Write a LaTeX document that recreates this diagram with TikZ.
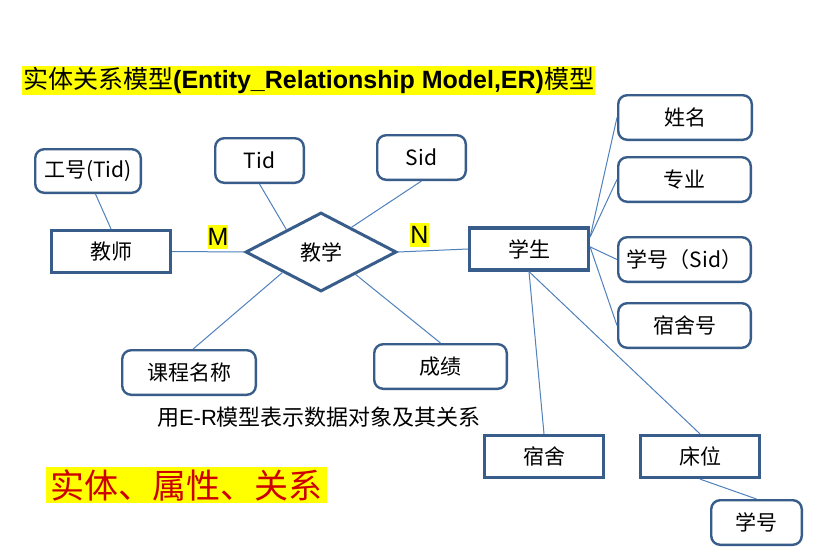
\documentclass[tikz,border=0pt]{standalone}
\usepackage{fontspec}
\setmainfont{Noto Sans CJK SC}
\newfontfamily\arial{Liberation Sans}
\usetikzlibrary{shapes.geometric}
\definecolor{boxc}{RGB}{56,93,138}
\definecolor{linec}{RGB}{79,129,189}
\definecolor{hl}{RGB}{255,255,0}
\definecolor{redt}{RGB}{204,0,0}
\begin{document}
\begin{tikzpicture}[x=1pt,y=-1pt,
  entity/.style={draw=boxc, line width=3.2pt, minimum width=119pt, minimum height=42pt, inner sep=0pt, font=\fontsize{21}{25}\selectfont},
  attr/.style={draw=boxc, line width=2.4pt, rounded corners=9pt, minimum height=44.6pt, inner sep=0pt, font=\fontsize{21}{25}\selectfont},
  rel/.style={diamond, draw=boxc, line width=3pt, minimum width=151pt, minimum height=79pt, inner sep=0pt, font=\fontsize{21}{25}\selectfont},
  conn/.style={draw=linec, line width=1pt},
  hlabel/.style={fill=hl, inner sep=0pt, minimum height=24pt, font=\arial\fontsize{25}{25}\selectfont}
]
\fill[white] (0,0) rectangle (820,555);
\useasboundingbox (0,0) rectangle (820,555);

% title
\node[fill=hl, anchor=west, inner xsep=1pt, inner ysep=0pt, minimum height=29pt, font=\fontsize{25}{29}\selectfont] (title) at (22,80.5)
  {实体关系模型{\arial\bfseries (Entity\_Relationship Model,ER)}模型};

% entities
\node[entity] (js) at (111,251.5) {教师};
\node[entity] (xs) at (529,249) {学生};
\node[entity] (ss) at (544,456.5) {宿舍};
\node[entity] (cw) at (700,456.5) {床位};

% relation
\node[rel] (jx) at (321,252) {教学};

% attributes
\node[attr, minimum width=105.6pt, minimum height=43.6pt] (gh) at (88,171) {工号(Tid)};
\node[attr, minimum width=88.6pt] (tid) at (259.5,160.5) {Tid};
\node[attr, minimum width=88.6pt] (sid) at (421.5,157.5) {Sid};
\node[attr, minimum width=133.6pt] (xm) at (685,117.5) {姓名};
\node[attr, minimum width=132.6pt] (zy) at (684.5,179.5) {专业};
\node[attr, minimum width=132.6pt] (xh) at (684.5,259.5) {学号（Sid）};
\node[attr, minimum width=132.6pt] (ssh) at (684.5,325.5) {宿舍号};
\node[attr, minimum width=133.6pt] (kc) at (189,372.5) {课程名称};
\node[attr, minimum width=132.6pt] (cj) at (440.5,366.5) {成绩};
\node[attr, minimum width=90.6pt] (xh2) at (756.5,522.5) {学号};

% cardinality labels
\node[hlabel] (m) at (218,237) {M};
\node[hlabel] (n) at (419.5,235) {N};

% connectors
\draw[conn] (js.east) -- (jx.west);
\draw[conn] (jx.east) -- (xs.west);
\draw[conn] (gh.-72) -- (js.north);
\draw[conn] (tid.south) -- (jx.147);
\draw[conn] (sid.south) -- (jx.39);
\draw[conn] (jx.208) -- (kc.80);
\draw[conn] (jx.327) -- (cj.north);
\draw[conn] (xs.11) -- (xm.west);
\draw[conn] (xs.11) -- (zy.west);
\draw[conn] (xs.2) -- (xh.west);
\draw[conn] (xs.2) -- (ssh.west);
\draw[conn] (xs.south) -- (ss.north);
\draw[conn] (xs.south) -- (cw.north);
\draw[conn] (cw.south) -- (xh2.north);

% caption
\node[font=\fontsize{22}{26}\selectfont] (cap) at (319,417) {用{\arial E-R}模型表示数据对象及其关系};

% bottom highlighted text
\node[fill=hl, text=redt, inner sep=0pt, minimum width=281pt, minimum height=36pt, font=\fontsize{34}{36}\selectfont] (sum) at (186.5,485) {实体、属性、关系};
\end{tikzpicture}
\end{document}
